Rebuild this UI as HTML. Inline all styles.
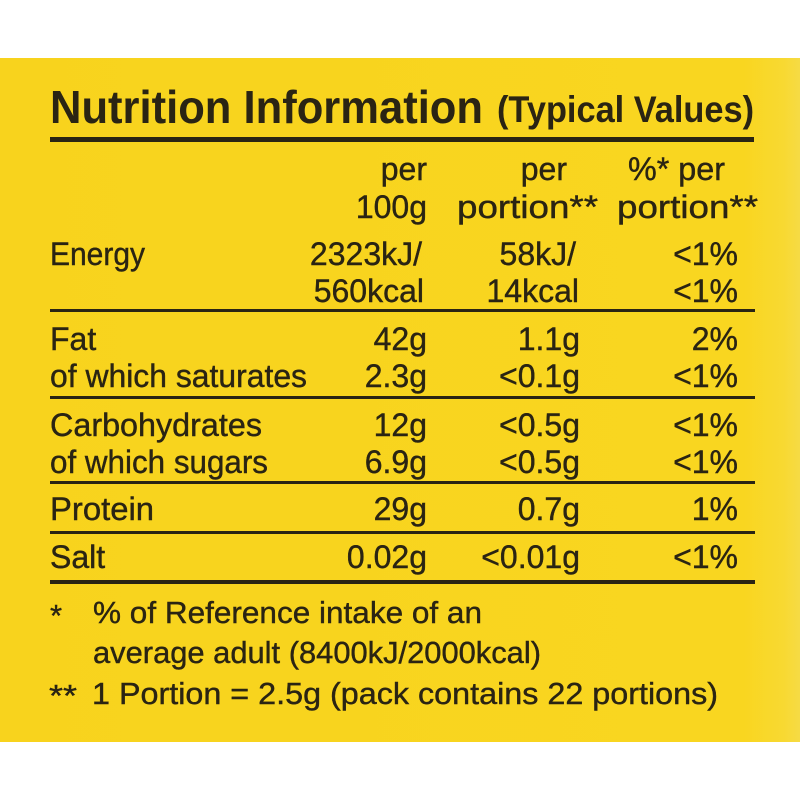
<!DOCTYPE html>
<html>
<head>
<meta charset="utf-8">
<style>
  html,body{margin:0;padding:0;background:#fff;}
  svg{display:block;}
  text{font-family:"Liberation Sans", sans-serif; fill:#2a2413;}
  .w{stroke:#2a2413; stroke-width:0.4;}
</style>
</head>
<body>
<svg width="800" height="800" viewBox="0 0 800 800" xmlns="http://www.w3.org/2000/svg">
  <defs>
    <linearGradient id="bg" x1="0" y1="0" x2="1" y2="0">
      <stop offset="0" stop-color="#f8d31d"/>
      <stop offset="0.93" stop-color="#f9d620"/>
      <stop offset="0.98" stop-color="#f8d932"/>
      <stop offset="1" stop-color="#f6db45"/>
    </linearGradient>
  </defs>
  <rect x="0" y="0" width="800" height="800" fill="#ffffff"/>
  <rect x="0" y="58" width="800" height="684" fill="url(#bg)"/>

  <!-- Title -->
  <text x="50" y="123" font-size="46" font-weight="bold" textLength="433" lengthAdjust="spacingAndGlyphs">Nutrition Information</text>
  <text x="497" y="122" font-size="37" font-weight="bold" textLength="257" lengthAdjust="spacingAndGlyphs">(Typical Values)</text>
  <rect x="50" y="137" width="704" height="5" fill="#2a2413"/>

  <g font-size="32" class="w">
    <!-- Header -->
    <text x="427" y="180" text-anchor="end">per</text>
    <text x="427" y="218" text-anchor="end">100g</text>
    <text x="567" y="180" text-anchor="end">per</text>
    <text x="457" y="218" textLength="141" lengthAdjust="spacingAndGlyphs">portion**</text>
    <text x="628" y="180" textLength="97" lengthAdjust="spacingAndGlyphs">%* per</text>
    <text x="617" y="218" textLength="141" lengthAdjust="spacingAndGlyphs">portion**</text>

    <!-- Energy -->
    <text x="50" y="265" textLength="95" lengthAdjust="spacingAndGlyphs">Energy</text>
    <text x="422" y="265" text-anchor="end">2323kJ/</text>
    <text x="424" y="302" text-anchor="end">560kcal</text>
    <text x="576" y="265" text-anchor="end">58kJ/</text>
    <text x="579" y="302" text-anchor="end">14kcal</text>
    <text x="738" y="265" text-anchor="end">&lt;1%</text>
    <text x="738" y="302" text-anchor="end">&lt;1%</text>
  </g>
  <rect x="50" y="309" width="705" height="3" fill="#2a2413"/>

  <g font-size="32" class="w">
    <!-- Fat -->
    <text x="50" y="350">Fat</text>
    <text x="50" y="387" textLength="257" lengthAdjust="spacingAndGlyphs">of which saturates</text>
    <text x="427" y="350" text-anchor="end">42g</text>
    <text x="427" y="387" text-anchor="end">2.3g</text>
    <text x="580" y="350" text-anchor="end">1.1g</text>
    <text x="580" y="387" text-anchor="end">&lt;0.1g</text>
    <text x="738" y="350" text-anchor="end">2%</text>
    <text x="738" y="387" text-anchor="end">&lt;1%</text>
  </g>
  <rect x="50" y="396" width="705" height="3" fill="#2a2413"/>

  <g font-size="32" class="w">
    <!-- Carbs -->
    <text x="50" y="436" textLength="212" lengthAdjust="spacingAndGlyphs">Carbohydrates</text>
    <text x="50" y="473" textLength="218" lengthAdjust="spacingAndGlyphs">of which sugars</text>
    <text x="427" y="436" text-anchor="end">12g</text>
    <text x="427" y="473" text-anchor="end">6.9g</text>
    <text x="580" y="436" text-anchor="end">&lt;0.5g</text>
    <text x="580" y="473" text-anchor="end">&lt;0.5g</text>
    <text x="738" y="436" text-anchor="end">&lt;1%</text>
    <text x="738" y="473" text-anchor="end">&lt;1%</text>
  </g>
  <rect x="50" y="481" width="705" height="3" fill="#2a2413"/>

  <g font-size="32" class="w">
    <!-- Protein -->
    <text x="50" y="520" textLength="104" lengthAdjust="spacingAndGlyphs">Protein</text>
    <text x="427" y="520" text-anchor="end">29g</text>
    <text x="580" y="520" text-anchor="end">0.7g</text>
    <text x="738" y="520" text-anchor="end">1%</text>
  </g>
  <rect x="50" y="531" width="705" height="3" fill="#2a2413"/>

  <g font-size="32" class="w">
    <!-- Salt -->
    <text x="50" y="568">Salt</text>
    <text x="427" y="568" text-anchor="end">0.02g</text>
    <text x="580" y="568" text-anchor="end">&lt;0.01g</text>
    <text x="738" y="568" text-anchor="end">&lt;1%</text>
  </g>
  <rect x="50" y="580" width="705" height="4" fill="#2a2413"/>

  <!-- Footer -->
  <g font-size="31" class="w">
    <text x="50" y="626">*</text>
    <text x="93" y="623" textLength="389" lengthAdjust="spacingAndGlyphs">% of Reference intake of an</text>
    <text x="93" y="663" textLength="448" lengthAdjust="spacingAndGlyphs">average adult (8400kJ/2000kcal)</text>
    <text x="49" y="706" textLength="28" lengthAdjust="spacingAndGlyphs">**</text>
    <text x="92" y="704" textLength="626" lengthAdjust="spacingAndGlyphs">1 Portion = 2.5g (pack contains 22 portions)</text>
  </g>
</svg>
</body>
</html>
